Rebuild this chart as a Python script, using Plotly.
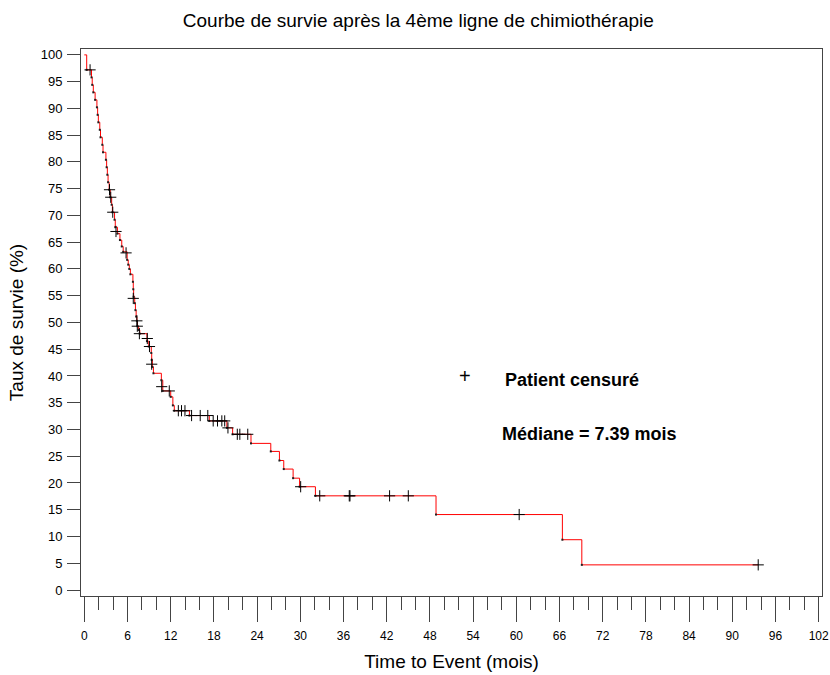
import plotly.graph_objects as go

# Kaplan-Meier step function (time in months, survival in %)
event_times = [0, 0.33, 1.0, 1.1, 1.25, 1.5, 1.75, 1.85, 1.95, 2.15, 2.25, 2.5, 2.6,
               3.0, 3.1, 3.2, 3.3, 3.45, 3.6, 3.8, 3.9, 4.2, 4.3, 4.6, 4.95, 5.2,
               5.4, 5.95, 6.1, 6.25, 6.4, 6.75, 6.8, 6.85, 7.0, 7.1, 7.2, 7.3, 7.39,
               7.55, 7.7, 8.7, 8.95, 9.3, 9.36, 9.45, 9.6, 10.7, 10.9, 12.0, 12.3,
               12.5, 14.6, 17.36, 19.8, 20.6, 23.15, 25.9, 27.1, 27.7, 29.0, 29.9,
               32.1, 48.85, 66.4, 69.1, 93.6]
survival = [100, 97.2, 95.8, 94.4, 93.0, 91.6, 90.2, 88.8, 87.4, 86.0, 84.6, 83.2, 81.8,
            80.4, 79.0, 77.6, 76.2, 74.8, 73.4, 72.0, 70.6, 69.2, 67.8, 66.6, 65.4, 64.2,
            63.2, 61.7, 60.8, 60.0, 59.0, 57.6, 56.2, 54.8, 53.6, 52.3, 51.1, 50.3, 49.3,
            48.6, 47.9, 46.5, 45.5, 44.3, 43.0, 41.7, 40.5, 39.2, 37.2, 36.1, 34.5,
            33.5, 32.6, 31.6, 30.3, 29.1, 27.4, 25.9, 24.2, 22.6, 20.9, 19.3,
            17.6, 14.1, 9.4, 4.7, 4.7]

# Censored patients
censor_times = [0.8, 3.5, 3.67, 3.95, 4.4, 5.8, 6.8, 7.3, 7.36, 7.65, 8.75, 9.05, 9.36,
                10.75, 11.8, 13.06, 13.5, 13.98, 14.9, 16.1, 17.15, 17.9, 18.5, 19.1,
                19.5, 19.95, 21.25, 21.6, 22.7, 30.05, 32.7, 36.8, 36.9, 42.4, 45.0,
                60.4, 93.6]
censor_surv = [97.2, 74.8, 73.4, 70.6, 67.0, 63.0, 54.5, 50.3, 49.3, 47.9, 47.0, 45.5, 42.2,
               38.0, 37.2, 33.5, 33.5, 33.5, 32.6, 32.6, 32.6, 31.6, 31.6, 31.6,
               31.6, 30.3, 29.1, 29.1, 29.1, 19.3, 17.6, 17.6, 17.6, 17.6, 17.6,
               14.1, 4.7]

x_ticks = list(range(0, 103, 6))
y_ticks = list(range(0, 101, 5))

fig = go.Figure()
fig.add_trace(go.Scatter(x=event_times, y=survival, mode="lines",
                         line=dict(color="#ff0000", width=1, shape="hv"),
                         hoverinfo="skip", showlegend=False))
fig.add_trace(go.Scatter(x=event_times[1:-1], y=survival[1:-1], mode="markers",
                         marker=dict(symbol="square", size=2, color="#202020",
                                     line=dict(width=0)),
                         hoverinfo="skip", showlegend=False))
fig.add_trace(go.Scatter(x=censor_times, y=censor_surv, mode="markers",
                         marker=dict(symbol="cross-thin", size=8,
                                     line=dict(color="#000000", width=1)),
                         showlegend=False))

axis_col = "#444444"
fig.update_layout(
    width=830, height=675,
    margin=dict(l=81, r=8, t=49, b=79),
    paper_bgcolor="white", plot_bgcolor="white",
    font=dict(family="Liberation Sans, Arial, sans-serif", color="black"),
    title=dict(text="Courbe de survie après la 4ème ligne de chimiothérapie",
               x=0.504, xanchor="center", y=1 - 20 / 675, yanchor="middle",
               font=dict(size=19, color="black")),
    xaxis=dict(range=[-0.46, 102.46], tickvals=x_ticks, ticktext=[str(v) for v in x_ticks],
               ticks="outside", ticklen=25, tickwidth=1, tickcolor=axis_col,
               minor=dict(dtick=2, tick0=0, ticks="outside", ticklen=13,
                          tickwidth=1, tickcolor=axis_col),
               showline=True, linecolor=axis_col, linewidth=1, mirror=True,
               showgrid=False, zeroline=False, ticklabelstandoff=4, automargin=False,
               tickfont=dict(family="Liberation Sans Narrow, Arial Narrow, Liberation Sans",
                             size=12, color="black"),
               title=dict(text="Time to Event (mois)", standoff=12,
                          font=dict(size=19, color="black"))),
    yaxis=dict(range=[-1.12, 101.1], tickvals=y_ticks, ticktext=[str(v) for v in y_ticks],
               ticks="outside", ticklen=13, tickwidth=1, tickcolor=axis_col,
               showline=True, linecolor=axis_col, linewidth=1, mirror=True,
               showgrid=False, zeroline=False, ticklabelstandoff=2, automargin=False,
               tickfont=dict(size=13, color="black"),
               title=dict(text="Taux de survie (%)", standoff=12,
                          font=dict(size=19, color="black"))),
    annotations=[
        dict(x=52.9, y=40.0, xref="x", yref="y", text="+", showarrow=False,
             font=dict(size=20, color="black"), xanchor="center", yanchor="middle"),
        dict(x=58.1, y=39.3, xref="x", yref="y", text="<b>Patient censuré</b>",
             showarrow=False, font=dict(size=18, color="black"),
             xanchor="left", yanchor="middle"),
        dict(x=57.7, y=29.2, xref="x", yref="y", text="<b>Médiane = 7.39 mois</b>",
             showarrow=False, font=dict(size=18, color="black"),
             xanchor="left", yanchor="middle"),
    ],
)

fig.write_html("out.html", config={"displayModeBar": False},
               post_script="document.body.style.margin='0px';")
